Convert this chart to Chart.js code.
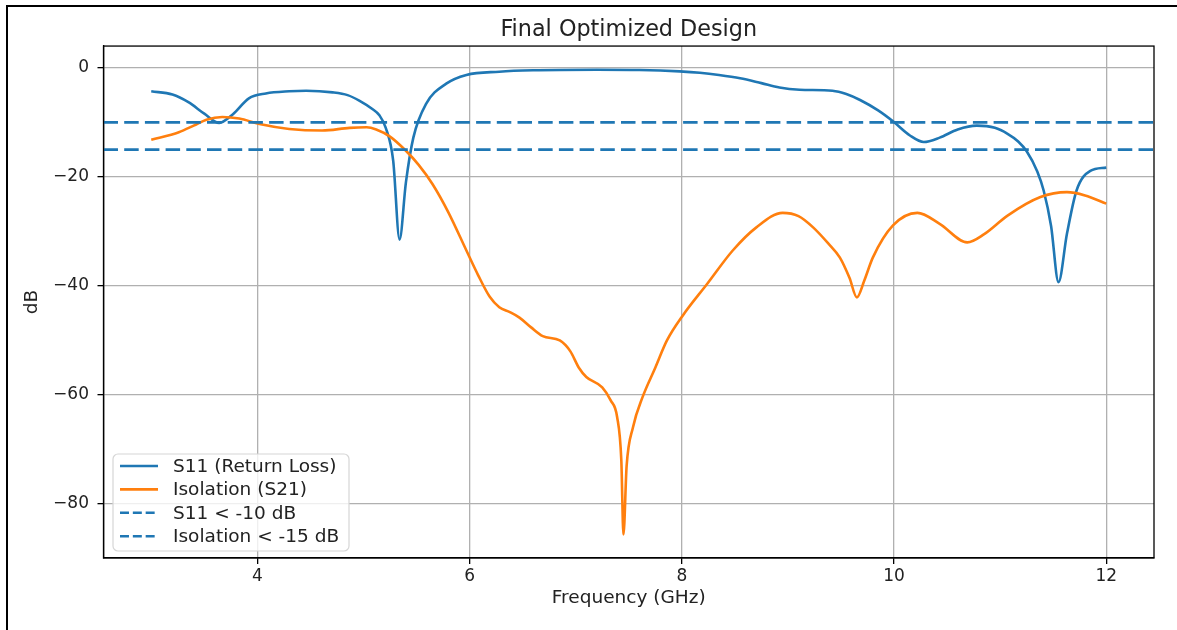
<!DOCTYPE html>
<html><head><meta charset="utf-8">
<script src="https://cdn.jsdelivr.net/npm/chart.js@4.4.1/dist/chart.umd.min.js"></script>
<style>html,body{margin:0;padding:0;background:#fff;} #wrap{width:1177px;height:630px;position:relative;}</style>
</head><body><div id="wrap"><canvas id="c" width="1177" height="630"></canvas></div>
<script>
const chartTitle = 'Final Optimized Design';
const xLabel = 'Frequency (GHz)';
const yLabel = 'dB';
const seriesNames = ['S11 (Return Loss)', 'Isolation (S21)', 'S11 < -10 dB', 'Isolation < -15 dB'];

const s11Freq = [3.00,3.20,3.35,3.50,3.64,3.77,3.92,4.08,4.30,4.46,4.71,4.85,4.96,5.08,5.15,5.21,5.28,5.34,5.40,5.47,5.59,5.78,5.97,6.28,6.60,7.20,7.60,7.98,8.17,8.35,8.55,8.75,8.92,9.11,9.42,9.55,9.68,9.85,9.99,10.15,10.28,10.43,10.60,10.78,10.95,11.07,11.17,11.25,11.35,11.41,11.48,11.55,11.63,11.72,11.85,12.00];
const s11Db   = [-4.3,-4.9,-6.3,-8.4,-10.1,-8.5,-5.6,-4.7,-4.3,-4.2,-4.5,-5.0,-6.0,-7.5,-8.7,-11.0,-17.0,-31.5,-21.0,-12.8,-6.6,-2.9,-1.3,-0.7,-0.45,-0.35,-0.4,-0.65,-0.9,-1.3,-1.9,-2.8,-3.6,-4.0,-4.2,-4.8,-5.9,-7.8,-9.8,-12.4,-13.6,-12.8,-11.3,-10.6,-11.0,-12.1,-13.5,-15.3,-19.0,-22.5,-29.0,-39.3,-30.4,-22.5,-18.9,-18.3];

const isoFreq = [3.00,3.26,3.40,3.52,3.67,3.83,4.02,4.30,4.61,4.87,5.03,5.12,5.25,5.40,5.52,5.65,5.80,5.97,6.08,6.19,6.28,6.38,6.47,6.58,6.69,6.85,6.95,7.03,7.10,7.25,7.33,7.39,7.43,7.45,7.48,7.54,7.63,7.75,7.86,8.01,8.24,8.48,8.70,8.95,9.10,9.24,9.38,9.49,9.58,9.65,9.72,9.80,9.99,10.22,10.43,10.69,10.85,11.07,11.38,11.63,11.80,12.00];
const isoDb   = [-13.2,-11.8,-10.6,-9.5,-9.0,-9.3,-10.3,-11.2,-11.5,-11.0,-10.9,-11.3,-12.6,-15.2,-17.8,-21.3,-26.5,-33.5,-38.0,-42.0,-43.9,-44.8,-45.8,-47.6,-49.2,-50.0,-52.0,-55.0,-56.7,-58.6,-61.0,-64.0,-72.0,-85.6,-73.0,-65.9,-60.4,-55.0,-50.0,-45.4,-39.6,-33.5,-29.3,-26.6,-27.2,-29.3,-32.2,-34.8,-38.5,-42.1,-39.0,-34.8,-28.9,-26.6,-28.6,-32.0,-30.5,-27.1,-23.7,-22.8,-23.4,-24.9];

const thresholds = [-10, -15];
const xTicks = [4, 6, 8, 10, 12];
const yTicks = [0, -20, -40, -60, -80];
const xLimits = [2.55, 12.45];
const yLimits = [-89.9, 4.0];

const BLUE = '#1f77b4', ORANGE = '#ff7f0e';
const FONT = 'DejaVu Sans';

function pts(xs, ys) { return xs.map((x, i) => ({x: x, y: ys[i]})); }
function hline(v) { return xLimits.map(x => ({x: x, y: v})); }

const lineW = 2.6;
const dash = [14.5, 6.2];
const styles = [
  {color: BLUE, dash: []},
  {color: ORANGE, dash: []},
  {color: BLUE, dash: dash},
  {color: BLUE, dash: dash}
];

const frameAndLegend = {
  id: 'frameAndLegend',
  beforeDraw(chart) {
    const ctx = chart.ctx;
    ctx.save();
    ctx.fillStyle = '#fff';
    ctx.fillRect(0, 0, chart.width, chart.height);
    ctx.fillStyle = '#000';
    ctx.fillRect(6, 5, 2, chart.height - 5);
    ctx.fillRect(6, 5, chart.width - 6, 2);
    ctx.restore();
  },
  afterDraw(chart) {
    const ctx = chart.ctx;
    const a = chart.chartArea;
    ctx.save();
    ctx.strokeStyle = '#000';
    ctx.lineWidth = 1.3;
    ctx.strokeRect(a.left, a.top, a.right - a.left, a.bottom - a.top);
    // legend
    const bx = 113, by = 454, bw = 236, bh = 97, r = 5;
    ctx.beginPath();
    ctx.moveTo(bx + r, by);
    ctx.arcTo(bx + bw, by, bx + bw, by + bh, r);
    ctx.arcTo(bx + bw, by + bh, bx, by + bh, r);
    ctx.arcTo(bx, by + bh, bx, by, r);
    ctx.arcTo(bx, by, bx + bw, by, r);
    ctx.closePath();
    ctx.fillStyle = 'rgba(255,255,255,0.8)';
    ctx.fill();
    ctx.strokeStyle = '#d6d6d6';
    ctx.lineWidth = 1.2;
    ctx.stroke();
    ctx.font = '18.5px "' + FONT + '"';
    ctx.textBaseline = 'middle';
    ctx.textAlign = 'left';
    seriesNames.forEach((name, i) => {
      const y = 466 + i * 23.4;
      ctx.beginPath();
      ctx.strokeStyle = styles[i].color;
      ctx.lineWidth = lineW;
      ctx.setLineDash(styles[i].dash.map(d => d * 0.62));
      ctx.moveTo(120, y);
      ctx.lineTo(158, y);
      ctx.stroke();
      ctx.setLineDash([]);
      ctx.fillStyle = '#222';
      ctx.fillText(name, 173, y + 1);
    });
    ctx.restore();
  }
};

const datasets = [
  {label: seriesNames[0], data: pts(s11Freq, s11Db), order: 4},
  {label: seriesNames[1], data: pts(isoFreq, isoDb), order: 3},
  {label: seriesNames[2], data: hline(thresholds[0]), order: 2},
  {label: seriesNames[3], data: hline(thresholds[1]), order: 1}
].map((d, i) => Object.assign(d, {
  borderColor: styles[i].color,
  backgroundColor: styles[i].color,
  borderDash: styles[i].dash,
  borderWidth: lineW,
  pointRadius: 0,
  fill: false,
  cubicInterpolationMode: 'monotone',
  borderCapStyle: 'butt'
}));

new Chart(document.getElementById('c'), {
  type: 'line',
  data: {datasets: datasets},
  plugins: [frameAndLegend],
  options: {
    responsive: false,
    animation: false,
    devicePixelRatio: 1,
    layout: {padding: {left: 0, right: 23, top: 0, bottom: 0}},
    plugins: {
      legend: {display: false},
      tooltip: {enabled: false},
      title: {
        display: true, text: chartTitle, fullSize: false,
        color: '#222', font: {family: FONT, size: 22.3, weight: 'normal'},
        padding: {top: 17.1, bottom: 2.2}
      }
    },
    scales: {
      x: {
        type: 'linear', min: xLimits[0], max: xLimits[1],
        afterFit(s) { s.height = 72; },
        afterBuildTicks(s) { s.ticks = xTicks.map(v => ({value: v})); },
        ticks: {color: '#222', font: {family: FONT, size: 17}, padding: 2.5, maxRotation: 0, autoSkip: false,
          callback: v => (v < 0 ? '\u2212' : '') + Math.abs(v)},
        grid: {color: '#b0b0b0', lineWidth: 1.3, tickColor: '#000', tickLength: 6, tickWidth: 1.3},
        border: {display: true, color: '#000', width: 1.3},
        title: {display: true, text: xLabel, color: '#222', font: {family: FONT, size: 18.5}, padding: {top: 0, bottom: 20.9}}
      },
      y: {
        type: 'linear', min: yLimits[0], max: yLimits[1],
        afterFit(s) { s.width = 103.5; },
        afterBuildTicks(s) { s.ticks = yTicks.map(v => ({value: v})); },
        ticks: {color: '#222', font: {family: FONT, size: 17}, padding: 8.5, autoSkip: false,
          callback: v => (v < 0 ? '\u2212' : '') + Math.abs(v)},
        grid: {color: '#b0b0b0', lineWidth: 1.3, tickColor: '#000', tickLength: 6, tickWidth: 1.3},
        border: {display: true, color: '#000', width: 1.3},
        title: {display: true, text: yLabel, color: '#222', font: {family: FONT, size: 18.5}, padding: {top: 21.5, bottom: 0}}
      }
    }
  }
});
</script>
</body></html>
